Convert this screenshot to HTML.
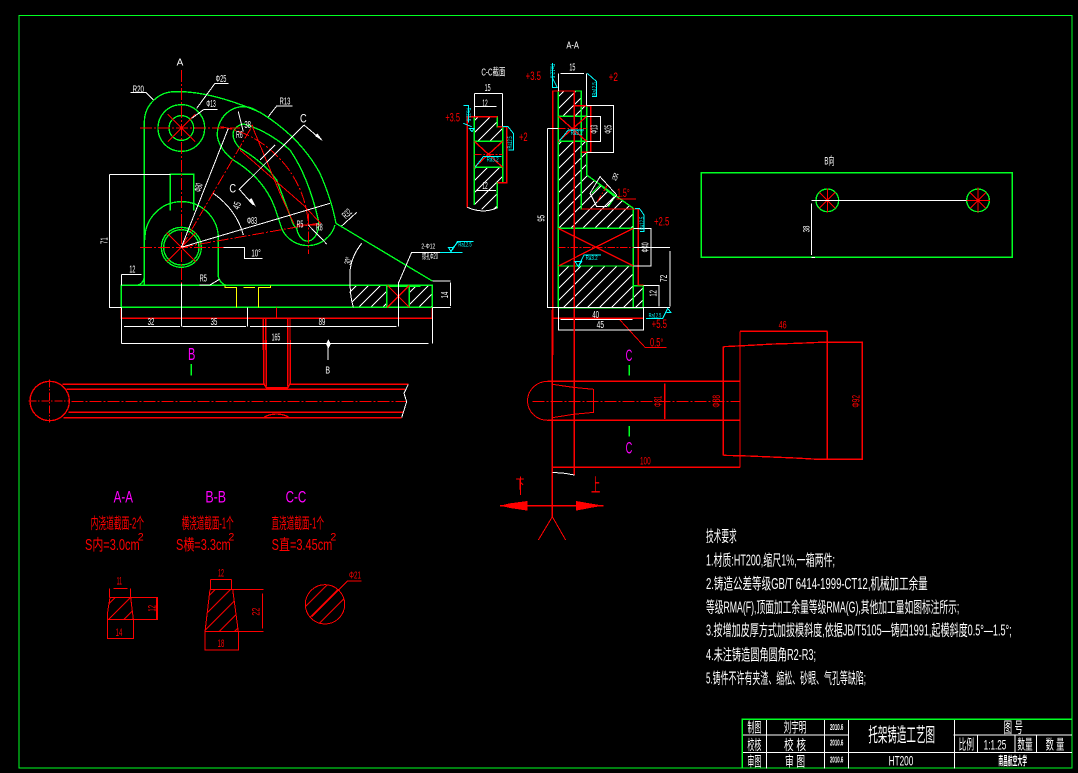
<!DOCTYPE html>
<html><head><meta charset="utf-8"><style>
html,body{margin:0;padding:0;background:#000;width:1078px;height:773px;overflow:hidden}
svg{display:block}
.g{stroke:#0f2;fill:none;stroke-width:4}
.r{stroke:#f00;fill:none;stroke-width:4}
.rt{stroke:#f00;fill:none;stroke-width:3}
.d{stroke:#f00;fill:none;stroke-width:3;stroke-dasharray:36 6 6 6}
.w{stroke:#fff;fill:none;stroke-width:3}
.c{stroke:#0ff;fill:none;stroke-width:3}
.y{stroke:#ff0;fill:none;stroke-width:3}
text{font-family:"Liberation Sans","WenQuanYi Zen Hei","Noto Sans CJK SC",sans-serif;text-anchor:middle}
.tw{fill:#fff}.tr{fill:#f00}.tm{fill:#f0f}.tc{fill:#0ff}
.l{text-anchor:start}
</style></head><body>
<svg xmlns="http://www.w3.org/2000/svg" width="1078" height="773" viewBox="0 0 1078 773" shape-rendering="crispEdges">
<defs>
<pattern id="h" width="36" height="36" patternUnits="userSpaceOnUse"><path d="M-5 41L41 -5M-5 5L5 -5M31 41L41 31" stroke="#fff" stroke-width="3"/></pattern>
<pattern id="hr" width="46" height="46" patternUnits="userSpaceOnUse"><path d="M-5 51L51 -5M-5 5L5 -5M41 51L51 41" stroke="#f00" stroke-width="3"/></pattern>
</defs>
<rect width="1078" height="773" fill="#000"/>
<rect x="19" y="15.500" width="1053" height="752.500" fill="none" stroke="#0f2" stroke-width="1.300"/>

<!-- front view -->
<g transform="translate(100,50) scale(.33333)">
<path d="M750 706Q745 740 760 772H860V706ZM928 706H997V772H928Z" fill="url(#h)"/>
<path class="g" d="M133 706V215A92 92 0 0 1 225 125Q330 122 480 187Q600 260 660 370Q695 450 708 520L997 693"/>
<rect class="g" x="64" y="706" width="933" height="66"/>
<path class="g" d="M860 706V772M928 706V772M862 709H962M133 680Q130 704 108 706"/>
<circle class="g" cx="244" cy="234" r="70"/><circle class="g" cx="244" cy="234" r="37"/>
<circle class="g" cx="244" cy="592" r="60"/><circle class="g" cx="244" cy="592" r="53"/>
<path class="g" d="M135 570A110 110 0 0 1 355 560V680Q360 700 378 706M211 482V373H281V482"/>
<path class="g" d="M352 260A78 84 0 0 1 470 182M352 260Q360 300 400 330Q500 390 530 490L545 535A85 85 0 0 0 705 525"/>
<path class="g" d="M430 222Q500 240 570 300Q625 380 655 510A33 50 0 0 1 590 535Q578 525 575 510L530 390Q490 335 420 295Q395 270 400 245Q410 225 430 222Z"/>
<path class="y" d="M375 706V712H410V772M430 712H465M475 772V712H512V706"/>
<path class="d" d="M244 60V700M120 234H420M120 592H370M244 592L460 222M244 592L665 518M362 230Q480 250 560 350Q620 430 625 525M625 490V612M530 772V805"/>
<path class="rt" d="M203 193L285 275M285 193L203 275M200 548L288 636M288 548L200 636M420 300L610 465L660 518M455 225L540 430L582 522M590 525H660"/>
<path class="r" d="M862 706L928 772M928 706L862 772"/>
<path class="r" d="M64 772V805H997V772M490 805V900M497 805V900M563 805V900M570 805V900" stroke-width="4"/>
<path class="w" d="M244 700V830M244 592L385 235M244 592L690 460M340 430Q410 480 430 555M612 225L418 418L460 465M612 225L665 270M525 285L480 330M28 373H211M28 373V772H64M64 674H125M64 674V706M298 705H330L358 688M370 592H433V625H488M92 128H138L160 150M385 100H345L290 175M352 178H312L275 205M578 168H530L505 200M770 487L725 528M785 580Q745 630 750 690Q750 740 760 772M895 700V830M895 700L935 607H1088M997 693H1052M997 772H1052M1052 698V768M72 830H240M248 830H438M450 830H890M64 772V880M442 772V830M997 772V880M72 880H985M685 870V890M415 185L430 245M680 582L625 525"/>
<path fill="#fff" d="M668 272L645 258L652 250ZM468 470L445 452L454 444ZM685 868L692 882L685 896L678 882Z"/>
<g class="tw" font-size="30">
<text x="240" y="47" font-size="30">A</text>
<text x="115" y="127" textLength="34" lengthAdjust="spacingAndGlyphs">R20</text>
<text x="363" y="96" textLength="32" lengthAdjust="spacingAndGlyphs">Φ25</text>
<text x="333" y="171" textLength="28" lengthAdjust="spacingAndGlyphs">Φ13</text>
<text x="555" y="163" textLength="32" lengthAdjust="spacingAndGlyphs">R13</text>
<text x="610" y="217" font-size="36" textLength="20" lengthAdjust="spacingAndGlyphs">C</text><text x="398" y="428" font-size="36" textLength="20" lengthAdjust="spacingAndGlyphs">C</text>
<text x="456" y="522" textLength="30" lengthAdjust="spacingAndGlyphs">Φ83</text>
<text x="97" y="668" textLength="18" lengthAdjust="spacingAndGlyphs">12</text>
<text x="310" y="695" textLength="22" lengthAdjust="spacingAndGlyphs">R5</text>
<text x="468" y="620" textLength="28" lengthAdjust="spacingAndGlyphs">10°</text>
<text x="985" y="595" font-size="22" textLength="42" lengthAdjust="spacingAndGlyphs">2-Φ12</text>
<text x="990" y="627" font-size="24" textLength="48" lengthAdjust="spacingAndGlyphs">锪孔Φ20</text>
<text x="153" y="825" textLength="20" lengthAdjust="spacingAndGlyphs">32</text>
<text x="342" y="825" textLength="20" lengthAdjust="spacingAndGlyphs">35</text>
<text x="666" y="825" textLength="20" lengthAdjust="spacingAndGlyphs">89</text>
<text x="528" y="872" textLength="26" lengthAdjust="spacingAndGlyphs">165</text>
<text transform="translate(22,572) rotate(-90)" textLength="20" lengthAdjust="spacingAndGlyphs">71</text>
<text transform="translate(1044,735) rotate(-90)" textLength="20" lengthAdjust="spacingAndGlyphs">14</text>
<text transform="translate(305,415) rotate(-75)" textLength="26" lengthAdjust="spacingAndGlyphs">Φ80</text>
<text transform="translate(420,470) rotate(-70)" textLength="22" lengthAdjust="spacingAndGlyphs">45</text>
<text transform="translate(755,635) rotate(-75)" textLength="22" lengthAdjust="spacingAndGlyphs">30°</text>
<text transform="translate(748,498) rotate(-45)" textLength="28" lengthAdjust="spacingAndGlyphs">R32</text>
<text x="443" y="234" textLength="20" lengthAdjust="spacingAndGlyphs">38</text>
<text x="418" y="264" textLength="20" lengthAdjust="spacingAndGlyphs">R6</text>
<text x="600" y="532" textLength="20" lengthAdjust="spacingAndGlyphs">R5</text>
<text x="658" y="542" textLength="20" lengthAdjust="spacingAndGlyphs">R8</text>
</g>
<path class="c" d="M1045 592H1060L1053 604ZM1060 592L1075 575H1110"/>
</g>

<!-- sections -->
<g transform="translate(440,35) scale(.33333)">
<path d="M103 245H172V275H188V319H103ZM103 397H188V443H172V520Q130 535 103 510Z" fill="url(#h)"/>
<path d="M355 168H424V212H440V244H355ZM355 319H440V420L580 520V580H355ZM355 693H580V752H610V818H355Z" fill="url(#h)"/>
<path class="g" d="M103 510V245H172V275H188V443H172V520M103 319H188M103 397H188"/>
<path class="g" d="M355 818V168H424V212H440V420L580 520V818M424 212V522H580M580 752H610V818H355M355 244H440M355 319H440M355 580H580M355 693H580"/>
<path class="g" stroke-width="6" d="M579 580V693"/>
<path class="g" d="M455 475L480 450L525 485L505 515"/>
<path class="r" d="M103 319L188 397M188 319L103 397M82 517V245H172M172 275H200V443H172M338 960V168H403V960M403 212H452V352H424M424 522H595V750H610M338 850H610M355 580L580 693M580 580L355 693M355 244L440 319M440 244L355 319"/>
<path class="rt" d="M530 492H588M615 937L540 855M615 937H680"/>
<path class="d" d="M103 358H188M355 280H440M355 637H580M472 500L505 445" style="stroke-dasharray:22 5 5 5"/>
<path class="w" d="M103 175H188M103 175V245M188 175V275M105 215H170M110 467H168M82 517Q130 538 172 518M355 115V168M440 115V212M362 115H432M440 212H520V352H440M440 244H482V319H440M322 280H355M322 280V818H355M355 818H690M690 648V815M580 637H690M580 580H633V693H580M610 752H657V815M362 853H578M355 818V885H610V818M480 425L530 480L500 515L470 515L450 475Z"/>
<path class="c" d="M70 212H85V262M70 265L95 275M88 280H103L96 290ZM188 275H204L220 295V345H206M338 84L338 130L352 158L338 158ZM442 115L470 140V185H456M358 318L385 285H432M105 397L130 365H185M405 680H425L415 695ZM415 695L432 660H483M585 520H598L612 540V590H600M618 850H668L683 820L693 833H680"/>
<g class="tc" font-size="19">
<text transform="translate(80,238) rotate(90)" textLength="40" lengthAdjust="spacingAndGlyphs">Ra12.5</text>
<text transform="translate(216,322) rotate(-90)" textLength="36" lengthAdjust="spacingAndGlyphs">Ra12.5</text>
<text transform="translate(332,108) rotate(90)" textLength="44" lengthAdjust="spacingAndGlyphs">Ra12.5</text>
<text transform="translate(470,162) rotate(-90)" textLength="40" lengthAdjust="spacingAndGlyphs">Ra12.5</text>
<text x="410" y="300" textLength="36" lengthAdjust="spacingAndGlyphs">Ra3.2</text>
<text x="158" y="380" textLength="36" lengthAdjust="spacingAndGlyphs">Ra3.2</text>
<text x="455" y="675" textLength="36" lengthAdjust="spacingAndGlyphs">Ra3.2</text>
<text transform="translate(612,565) rotate(-90)" textLength="40" lengthAdjust="spacingAndGlyphs">Ra12.5</text>
<text x="645" y="848" textLength="38" lengthAdjust="spacingAndGlyphs">Ra12.5</text>
<text x="75" y="634" textLength="40" lengthAdjust="spacingAndGlyphs">Ra12.5</text>
</g>
<path class="c" d="M25 637H42L33 650ZM42 637L52 620H100M0 652H68"/>
<g class="tr" font-size="36">
<text x="38" y="260" textLength="44" lengthAdjust="spacingAndGlyphs">+3.5</text>
<text x="250" y="318" textLength="26" lengthAdjust="spacingAndGlyphs">+2</text>
<text x="280" y="135" textLength="46" lengthAdjust="spacingAndGlyphs">+3.5</text>
<text x="520" y="138" textLength="28" lengthAdjust="spacingAndGlyphs">+2</text>
<text x="550" y="486" textLength="38" lengthAdjust="spacingAndGlyphs">1.5°</text>
<text x="665" y="572" textLength="46" lengthAdjust="spacingAndGlyphs">+2.5</text>
<text x="658" y="879" textLength="46" lengthAdjust="spacingAndGlyphs">+5.5</text>
<text x="650" y="935" textLength="40" lengthAdjust="spacingAndGlyphs">0.5°</text>
</g>
<g class="tw" font-size="30">
<text x="398" y="41" textLength="38" lengthAdjust="spacingAndGlyphs">A-A</text>
<text x="160" y="122" textLength="72" lengthAdjust="spacingAndGlyphs">C-C截面</text>
<text x="143" y="168" textLength="18" lengthAdjust="spacingAndGlyphs">15</text>
<text x="135" y="214" textLength="16" lengthAdjust="spacingAndGlyphs">12</text>
<text x="135" y="462" textLength="16" lengthAdjust="spacingAndGlyphs">12</text>
<text x="397" y="107" textLength="18" lengthAdjust="spacingAndGlyphs">15</text>
<text x="467" y="849" textLength="20" lengthAdjust="spacingAndGlyphs">40</text>
<text x="481" y="879" textLength="22" lengthAdjust="spacingAndGlyphs">45</text>
<text x="522" y="435" transform="rotate(20 522 435)" textLength="16" lengthAdjust="spacingAndGlyphs">R5</text>
<text transform="translate(472,283) rotate(-90)" textLength="26" lengthAdjust="spacingAndGlyphs">Φ13</text>
<text transform="translate(515,283) rotate(-90)" textLength="26" lengthAdjust="spacingAndGlyphs">Φ25</text>
<text transform="translate(314,550) rotate(-90)" textLength="20" lengthAdjust="spacingAndGlyphs">95</text>
<text transform="translate(626,637) rotate(-90)" textLength="30" lengthAdjust="spacingAndGlyphs">Φ40</text>
<text transform="translate(681,730) rotate(-90)" textLength="22" lengthAdjust="spacingAndGlyphs">72</text>
<text transform="translate(650,775) rotate(-90)" textLength="20" lengthAdjust="spacingAndGlyphs">12</text>
</g>
</g>

<!-- runner right -->
<g transform="translate(500,310) scale(.33333)">
<path class="r" d="M157 0V620M223 0V495M143 214H720M143 331H720M670 110V436M720 64V472M720 64H982M982 64V448M157 472H720M494 220V327"/>
<path class="rt" d="M143 214A60 58 0 0 0 143 331M157 223L220 232L281 238V307L220 313L157 323"/>
<path class="r" d="M670 110L750 106L820 102L890 100L960 97H1087V448H955L885 444L815 441L745 438L670 436"/>
<path class="d" d="M97 274H720"/>
<path class="r" d="M0 587H310"/>
<path d="M0 587L30 580L83 573V602L30 594ZM228 573V602L280 592L310 587L280 582Z" fill="#f00"/>
<path class="rt" d="M157 620L115 690M157 620L197 690M61 500V555"/>
<path class="w" d="M157 487L195 490L223 495"/>
<path class="g" d="M388 165V197M388 348V380"/>
<g class="tr" font-size="34">
<text x="848" y="56" textLength="24" lengthAdjust="spacingAndGlyphs">46</text>
<text x="436" y="464" textLength="32" lengthAdjust="spacingAndGlyphs">100</text>
<text transform="translate(484,274) rotate(-90)" textLength="34" lengthAdjust="spacingAndGlyphs">Φ81</text>
<text transform="translate(660,274) rotate(-90)" textLength="38" lengthAdjust="spacingAndGlyphs">Φ88</text>
<text transform="translate(1078,274) rotate(-90)" textLength="38" lengthAdjust="spacingAndGlyphs">Φ92</text>
<text x="60" y="536" font-size="40" textLength="26" lengthAdjust="spacingAndGlyphs">下</text>
<text x="287" y="546" font-size="56" textLength="28" lengthAdjust="spacingAndGlyphs">上</text>
</g>
<g class="tm" font-size="50"><text x="387" y="153" textLength="20" lengthAdjust="spacingAndGlyphs">C</text><text x="387" y="431" textLength="20" lengthAdjust="spacingAndGlyphs">C</text></g>
</g>

<!-- runner left + section data -->
<g transform="translate(20,340) scale(.33333)">
<circle class="r" cx="89" cy="183" r="59"/>
<path class="d" d="M89 118V248M25 183H150" style="stroke-dasharray:24 5 5 5"/>
<path class="r" d="M128 133H733M812 133H1165M140 148H1155M145 217H1150M130 233H1145M731 0V125Q731 133 739 143H803Q811 133 811 125V0M739 0V140M803 0V140M733 231Q750 222 770 222T805 231"/>
<path class="d" d="M155 184H1160"/>
<path class="w" d="M1165 133L1152 160L1160 185L1145 233M924 10V60M305 10H1150"/>
<path class="g" d="M514 72V107"/>
<text class="tw" x="923" y="101" font-size="30" textLength="14" lengthAdjust="spacingAndGlyphs">B</text>
<g class="tm">
<text x="515" y="60" font-size="52" textLength="22" lengthAdjust="spacingAndGlyphs">B</text>
<text x="310" y="488" font-size="50" textLength="58" lengthAdjust="spacingAndGlyphs">A-A</text>
<text x="587" y="488" font-size="50" textLength="62" lengthAdjust="spacingAndGlyphs">B-B</text>
<text x="828" y="488" font-size="50" textLength="62" lengthAdjust="spacingAndGlyphs">C-C</text>
</g>
<g class="tr" font-size="46">
<text x="292" y="565" textLength="160" lengthAdjust="spacingAndGlyphs">内浇道截面-2个</text>
<text x="563" y="565" textLength="156" lengthAdjust="spacingAndGlyphs">横浇道截面-1个</text>
<text x="833" y="565" textLength="158" lengthAdjust="spacingAndGlyphs">直浇道截面-1个</text>
<text x="277" y="630" textLength="164" lengthAdjust="spacingAndGlyphs">S内=3.0cm</text>
<text x="550" y="630" textLength="164" lengthAdjust="spacingAndGlyphs">S横=3.3cm</text>
<text x="846" y="630" textLength="182" lengthAdjust="spacingAndGlyphs">S直=3.45cm</text>
<text x="362" y="602" font-size="32">2</text><text x="634" y="602" font-size="32">2</text><text x="940" y="602" font-size="32">2</text>
</g>
<path d="M270 772H332L338 838H262Z" fill="url(#hr)"/>
<path d="M570 748H638L655 875H555Z" fill="url(#hr)"/>
<circle cx="915" cy="793" r="59" fill="url(#hr)"/>
<path class="rt" d="M268 745V772M332 745V772M280 745H323M270 772H412V838H262M270 772L262 822V895H340V838L332 772M410 772V838"/>
<path class="rt" d="M572 718V748M634 718V748M572 718H634M570 748H730M570 748L555 875V930H655V875L638 748M555 875H730M728 760V865M555 930H655"/>
<circle class="rt" cx="915" cy="793" r="59"/>
<path class="rt" d="M875 830L982 723H1025"/>
<g class="tr" font-size="34">
<text x="298" y="733" textLength="16" lengthAdjust="spacingAndGlyphs">11</text>
<text x="297" y="888" textLength="20" lengthAdjust="spacingAndGlyphs">14</text>
<text transform="translate(407,805) rotate(-90)" textLength="20" lengthAdjust="spacingAndGlyphs">12</text>
<text x="603" y="709" textLength="18" lengthAdjust="spacingAndGlyphs">12</text>
<text x="603" y="921" textLength="20" lengthAdjust="spacingAndGlyphs">18</text>
<text transform="translate(719,815) rotate(-90)" textLength="24" lengthAdjust="spacingAndGlyphs">22</text>
<text x="1005" y="716" font-size="30" textLength="36" lengthAdjust="spacingAndGlyphs">Φ21</text>
</g>
</g>

<!-- notes + title -->
<g transform="translate(690,520) scale(.33333)">
<g class="tw" font-size="46">
<text class="l" x="48" y="64" textLength="92" lengthAdjust="spacingAndGlyphs">技术要求</text>
<text class="l" x="48" y="137" textLength="387" lengthAdjust="spacingAndGlyphs">1.材质:HT200,缩尺1%,一箱两件;</text>
<text class="l" x="48" y="207" textLength="665" lengthAdjust="spacingAndGlyphs">2.铸造公差等级GB/T 6414-1999-CT12,机械加工余量</text>
<text class="l" x="48" y="277" textLength="760" lengthAdjust="spacingAndGlyphs">等级RMA(F),顶面加工余量等级RMA(G),其他加工量如图标注所示;</text>
<text class="l" x="48" y="347" textLength="917" lengthAdjust="spacingAndGlyphs">3.按增加皮厚方式加拔模斜度,依据JB/T5105—铸四1991,起模斜度0.5°—1.5°;</text>
<text class="l" x="48" y="420" textLength="330" lengthAdjust="spacingAndGlyphs">4.未注铸造圆角圆角R2-R3;</text>
<text class="l" x="48" y="490" textLength="480" lengthAdjust="spacingAndGlyphs">5.铸件不许有夹渣、缩松、砂眼、气孔等缺陷;</text>
</g>
<path class="w" d="M157 645H1146M157 697H1146M229 598V745M403 598V745M475 598V745M793 598V745M862 645V697M975 645V697M1040 645V697" stroke-width="3"/>
<path class="g" d="M157 745V598H1146"/>
<path d="M477 645H791" stroke="#000" stroke-width="4" fill="none"/>
<g class="tw" font-size="42">
<text x="193" y="637" textLength="42" lengthAdjust="spacingAndGlyphs">制图</text>
<text x="193" y="690" textLength="42" lengthAdjust="spacingAndGlyphs">校核</text>
<text x="193" y="740" textLength="42" lengthAdjust="spacingAndGlyphs">审图</text>
<text x="315" y="637" textLength="68" lengthAdjust="spacingAndGlyphs">刘宇明</text>
<text x="315" y="690" textLength="66" lengthAdjust="spacingAndGlyphs">校 核</text>
<text x="315" y="740" textLength="60" lengthAdjust="spacingAndGlyphs">审 图</text>
<text x="440" y="630" font-size="24" font-weight="bold" textLength="40" lengthAdjust="spacingAndGlyphs">2010.6</text>
<text x="440" y="677" font-size="24" font-weight="bold" textLength="40" lengthAdjust="spacingAndGlyphs">2010.6</text>
<text x="440" y="728" font-size="24" font-weight="bold" textLength="40" lengthAdjust="spacingAndGlyphs">2010.6</text>
<text x="635" y="665" font-size="58" textLength="200" lengthAdjust="spacingAndGlyphs">托架铸造工艺图</text>
<text x="633" y="737" textLength="74" lengthAdjust="spacingAndGlyphs">HT200</text>
<text x="970" y="638" font-size="44" textLength="58" lengthAdjust="spacingAndGlyphs">图 号</text>
<text x="829" y="688" textLength="46" lengthAdjust="spacingAndGlyphs">比例</text>
<text x="915" y="688" textLength="68" lengthAdjust="spacingAndGlyphs">1:1.25</text>
<text x="1005" y="688" textLength="46" lengthAdjust="spacingAndGlyphs">数量</text>
<text x="1095" y="688" textLength="56" lengthAdjust="spacingAndGlyphs">数 量</text>
<text x="968" y="735" font-size="36" font-weight="bold" textLength="86" lengthAdjust="spacingAndGlyphs">南昌航空大学</text>
</g>
</g>

<!-- B view -->
<g transform="translate(690,150) scale(.33333)">
<rect class="g" x="34" y="68" width="933" height="254"/>
<circle class="g" cx="412" cy="151" r="34"/><circle class="g" cx="864" cy="151" r="34"/>
<path class="rt" d="M412 115V188M388 127L436 175M436 127L388 175M864 113V188M840 127L888 175M888 127L840 175M828 151H900"/>
<path class="w" d="M365 151H830M365 160V315M365 322H375"/>
<text class="tw" x="418" y="44" font-size="32" textLength="30" lengthAdjust="spacingAndGlyphs">B向</text>
<text class="tw" transform="translate(358,237) rotate(-90)" font-size="28" textLength="20" lengthAdjust="spacingAndGlyphs">38</text>
</g>
</svg>
</body></html>
